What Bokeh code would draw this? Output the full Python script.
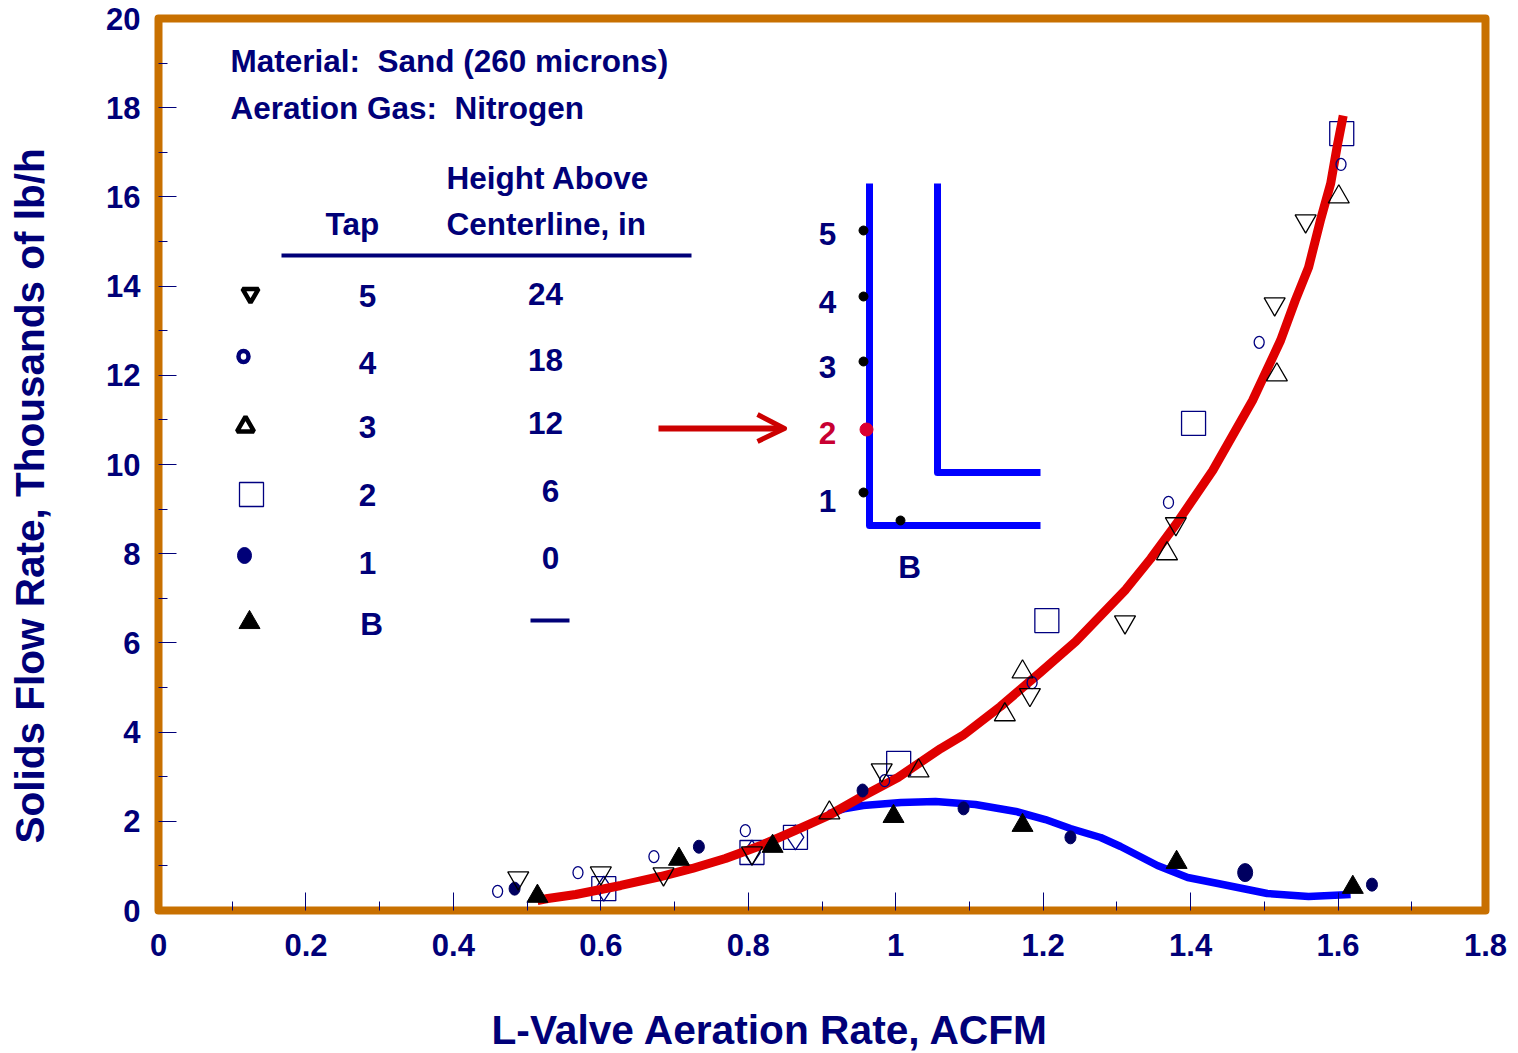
from bokeh.plotting import figure
from bokeh.embed import file_html
from bokeh.resources import INLINE
from bokeh.models import FixedTicker, Title, LinearAxis
from bokeh.core.properties import value

x_tick_values = [0, 0.2, 0.4, 0.6, 0.8, 1.0, 1.2, 1.4, 1.6, 1.8]
x_tick_labels = ["0", "0.2", "0.4", "0.6", "0.8", "1", "1.2", "1.4", "1.6", "1.8"]
x_marks = [0.2, 0.4, 0.6, 0.8, 1.0, 1.2, 1.4, 1.6]
x_minor = [0.1, 0.3, 0.5, 0.7, 0.9, 1.1, 1.3, 1.5, 1.7]
y_tick_values = [0, 2, 4, 6, 8, 10, 12, 14, 16, 18, 20]
y_marks = [2, 4, 6, 8, 10, 12, 14, 16, 18]
y_minor = [1, 3, 5, 7, 9, 11, 13, 15, 17, 19]

tap5_x = [0.488, 0.600, 0.685, 0.805, 0.981, 1.182, 1.311, 1.380, 1.514, 1.556]
tap5_y = [0.73, 0.84, 0.82, 1.29, 3.15, 4.84, 6.47, 8.67, 13.60, 15.46]
tap4_x = [0.460, 0.569, 0.672, 0.796, 0.985, 1.185, 1.370, 1.493, 1.604]
tap4_y = [0.43, 0.85, 1.21, 1.79, 2.91, 5.11, 9.15, 12.74, 16.73]
tap3_x = [0.910, 1.031, 1.148, 1.172, 1.368, 1.517, 1.601]
tap3_y = [2.19, 3.13, 4.39, 5.35, 8.00, 12.01, 16.00]
tap2_x = [0.604, 0.805, 0.864, 1.004, 1.205, 1.404, 1.605]
tap2_y = [0.49, 1.30, 1.64, 3.30, 6.50, 10.92, 17.42]
diamond_x = [0.604, 0.805, 0.864]
diamond_y = [0.49, 1.30, 1.64]
tap1_x = [0.483, 0.733, 0.955, 1.092, 1.237, 1.646]
tap1_y = [0.49, 1.43, 2.69, 2.29, 1.64, 0.58]
tap1_big_x = [1.474]
tap1_big_y = [0.85]
tapB_x = [0.514, 0.706, 0.833, 0.997, 1.172, 1.381, 1.620]
tapB_y = [0.32, 1.15, 1.44, 2.11, 1.91, 1.08, 0.52]

red_x = [0.514, 0.528, 0.566, 0.627, 0.681, 0.724, 0.769, 0.817, 0.864, 0.909, 0.952, 1.003, 1.061, 1.091, 1.142,
         1.196, 1.244, 1.278, 1.312, 1.346, 1.380, 1.430, 1.484, 1.522, 1.542, 1.560, 1.576, 1.590, 1.599, 1.607]
red_y = [0.224, 0.269, 0.359, 0.561, 0.762, 0.942, 1.166, 1.457, 1.794, 2.130, 2.534, 2.982, 3.632, 3.924, 4.574,
         5.336, 6.031, 6.614, 7.197, 7.892, 8.655, 9.865, 11.435, 12.78, 13.68, 14.42, 15.47, 16.30, 17.15, 17.82]
blue_x = [0.909, 0.932, 0.956, 1.007, 1.054, 1.108, 1.163, 1.203, 1.237, 1.278, 1.305, 1.355, 1.396, 1.437, 1.504, 1.560, 1.617]
blue_y = [2.175, 2.287, 2.354, 2.422, 2.444, 2.377, 2.220, 2.040, 1.839, 1.637, 1.435, 1.009, 0.740, 0.605, 0.381, 0.314, 0.359]

NAVY = "#000078"
ORANGE = "#C87000"
FONT = "Liberation Sans"
TS = 31.5

L, T, W, H = 158, 18, 1327, 892
FW, FH = 1518, 1053
p = figure(width=FW, height=FH, x_range=(0, 1.8), y_range=(0, 20),
           output_backend="svg", toolbar_location=None,
           min_border_left=L, min_border_top=T, min_border_right=FW-L-W, min_border_bottom=FH-T-H,
           frame_width=W, frame_height=H)
p.grid.visible = False
p.background_fill_color = "white"
p.outline_line_color = ORANGE
p.outline_line_width = 8
p.outline_line_join = "round"

# inner axes carry the tick marks only
p.xaxis.ticker = FixedTicker(ticks=x_marks, minor_ticks=x_minor)
p.yaxis.ticker = FixedTicker(ticks=y_marks, minor_ticks=y_minor)
p.xaxis.major_label_overrides = {v: "" for v in x_marks}
p.yaxis.major_label_overrides = {v: "" for v in y_marks}
for ax in (p.xaxis[0], p.yaxis[0]):
    ax.axis_line_color = None
    ax.major_tick_line_color = NAVY
    ax.minor_tick_line_color = NAVY
    ax.major_tick_in = 18
    ax.major_tick_out = 0
    ax.minor_tick_in = 9
    ax.minor_tick_out = 0
    ax.major_label_text_font_size = "1px"
    ax.major_label_standoff = 0

# outer axes carry the tick labels only
x_labels = LinearAxis(ticker=FixedTicker(ticks=x_tick_values),
                      major_label_overrides=dict(zip(x_tick_values, x_tick_labels)))
y_labels = LinearAxis(ticker=FixedTicker(ticks=y_tick_values),
                      major_label_overrides={v: str(v) for v in y_tick_values})
for ax in (x_labels, y_labels):
    ax.axis_line_color = None
    ax.major_tick_line_color = None
    ax.minor_tick_line_color = None
    ax.major_tick_in = 0
    ax.major_tick_out = 0
    ax.minor_tick_in = 0
    ax.minor_tick_out = 0
    ax.major_label_text_font = FONT
    ax.major_label_text_font_style = "bold"
    ax.major_label_text_font_size = "31px"
    ax.major_label_text_color = NAVY
x_labels.major_label_standoff = 23
y_labels.major_label_standoff = 18
y_labels.major_label_orientation = "horizontal"
p.add_layout(x_labels, "below")
p.add_layout(y_labels, "left")

# unlabelled axis that only reserves the gap between tick labels and title
p.add_layout(LinearAxis(ticker=FixedTicker(ticks=[10]), major_label_overrides={10: ""},
                        axis_line_color=None, major_tick_line_color=None,
                        minor_tick_line_color=None, major_tick_in=0, major_tick_out=43,
                        minor_tick_in=0, minor_tick_out=0, major_label_text_font_size="1px",
                        major_label_standoff=0), "left")


def fx(px):
    return (px - L) / (W / 1.8)


def fy(py):
    return (T + H - py) / (H / 20)


def txt(s, px, py, size=TS, color=NAVY, align="left"):
    p.text([fx(px)], [fy(py - 1)], text=[s], text_font=value(FONT), text_font_style="bold",
           text_font_size=f"{size}px", text_color=color, text_align=align, text_baseline="middle")


# markers lying under the curves
p.scatter(tap2_x, tap2_y, marker="square", size=24, fill_color=None, line_color="#000080", line_width=1.3)
p.scatter(diamond_x, diamond_y, marker="diamond", size=25, fill_color=None, line_color="#000080", line_width=1.3)

# curves
p.line(blue_x, blue_y, line_color="#0000FF", line_width=7.5, line_join="round")
p.line(red_x, red_y, line_color="#E00000", line_width=9, line_join="round")

# data markers
p.ellipse(tap4_x, tap4_y, width=10, height=12, width_units="screen", height_units="screen",
          fill_color=None, line_color="#000080", line_width=1.3)
p.ellipse(tap1_x, tap1_y, width=11, height=13, width_units="screen", height_units="screen",
          fill_color="#000060", line_color="#000060")
p.ellipse(tap1_big_x, tap1_big_y, width=15, height=18, width_units="screen", height_units="screen",
          fill_color="#000060", line_color="#000060")
p.scatter(tap5_x, tap5_y, marker="inverted_triangle", size=21, fill_color=None, line_color="black", line_width=1.3)
p.scatter(tap3_x, tap3_y, marker="triangle", size=21, fill_color=None, line_color="black", line_width=1.3)
p.scatter(tapB_x, tapB_y, marker="triangle", size=21, fill_color="black", line_color="black", line_width=1)

# annotation texts
txt("Material:\u00a0 Sand (260 microns)", 230, 61)
txt("Aeration Gas:\u00a0 Nitrogen", 230, 108)
txt("Height Above", 446, 178)
txt("Tap", 325, 224)
txt("Centerline, in", 446, 224)
p.line([fx(281), fx(691)], [fy(255), fy(255)], line_color=NAVY, line_width=4)

for s, py in zip(["5", "4", "3", "2", "1", "B"], [296, 363, 427, 495, 563, 624]):
    txt(s, 367 if s != "B" else 371, py, align="center")
for s, px, py in zip(["24", "18", "12", "6", "0"], [545, 545, 545, 550, 550], [294, 360, 423, 491, 558]):
    txt(s, px, py, align="center")
p.line([fx(530), fx(569)], [fy(620), fy(620)], line_color=NAVY, line_width=4)

# legend symbols
p.scatter([fx(250)], [fy(293)], marker="inverted_triangle", size=16, fill_color="white", line_color="black", line_width=4.5)
p.ellipse([fx(243)], [fy(356)], width=10, height=11, width_units="screen", height_units="screen",
          fill_color="white", line_color=NAVY, line_width=4.5)
p.scatter([fx(245)], [fy(426)], marker="triangle", size=17, fill_color="white", line_color="black", line_width=4.5)
p.scatter([fx(251)], [fy(494)], marker="square", size=24, fill_color=None, line_color="#000080", line_width=1.3)
p.ellipse([fx(244)], [fy(555)], width=14, height=16, width_units="screen", height_units="screen",
          fill_color=NAVY, line_color=NAVY)
p.scatter([fx(249)], [fy(622)], marker="triangle", size=21, fill_color="black", line_color="black", line_width=1)

# arrow
p.line([fx(658), fx(782)], [fy(428), fy(428)], line_color="#CC0000", line_width=6)
p.line([fx(757), fx(784), fx(757)], [fy(414), fy(428), fy(441)], line_color="#CC0000", line_width=5, line_join="round")

# schematic
p.line([fx(869), fx(869), fx(1040)], [fy(183), fy(525), fy(525)], line_color="#0000FF", line_width=7, line_join="round")
p.line([fx(937), fx(937), fx(1040)], [fy(183), fy(472), fy(472)], line_color="#0000FF", line_width=7, line_join="round")
p.scatter([fx(v) for v in [863, 863, 863, 863, 900]], [fy(v) for v in [230, 296, 361, 492, 520]],
          marker="circle", size=9, fill_color="black", line_color="black")
p.scatter([fx(866)], [fy(429)], marker="circle", size=13, fill_color="#DC0032", line_color="#DC0032")
for s, py in zip(["5", "4", "3", "1"], [234, 302, 367, 501]):
    txt(s, 827, py, align="center")
txt("2", 827, 433, color="#C80032", align="center")
txt("B", 909, 567, align="center")

# axis titles
p.add_layout(Title(text="L-Valve Aeration Rate, ACFM", text_font=FONT, text_font_style="bold",
                   text_font_size="40.7px", text_color=NAVY, align="left", offset=333, standoff=92), "below")
p.add_layout(Title(text="Solids Flow Rate, Thousands of lb/h", text_font=FONT, text_font_style="bold",
                   text_font_size="40.5px", text_color=NAVY, align="left", offset=67, standoff=11,
                   vertical_align="top"), "left")

open("out.html", "w").write(file_html(p, INLINE))
